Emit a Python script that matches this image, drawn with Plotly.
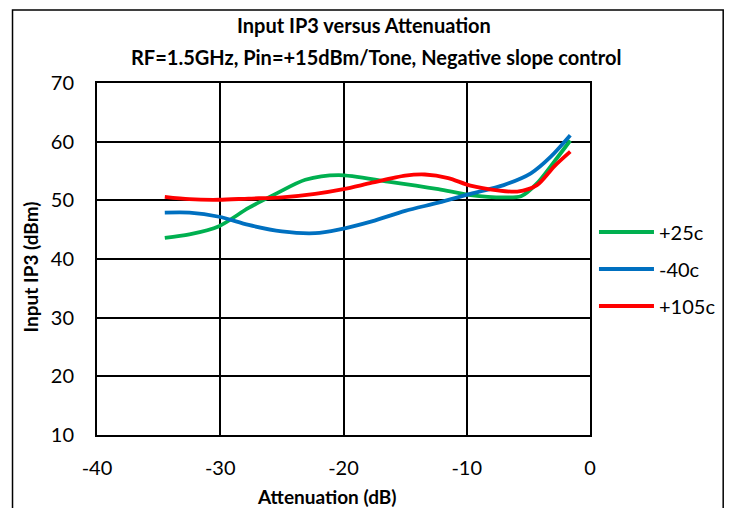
import plotly.graph_objects as go

title_line1 = "Input IP3 versus Attenuation"
title_line2 = "RF=1.5GHz, Pin=+15dBm/Tone, Negative slope control"
x_title = "Attenuation (dB)"
y_title = "Input IP3 (dBm)"

# Attenuation (dB) sample points and values
att_25 = [-34.5, -32.5, -30.1, -27.7, -25.5, -23.1, -20.4, -16.4, -12.3, -9.7, -7.0, -5.6, -4.3, -2.9, -1.6]
ip3_25 = [43.6, 44.2, 45.6, 48.7, 51.1, 53.5, 54.3, 53.2, 51.9, 50.9, 50.5, 50.7, 52.9, 56.6, 60.2]

att_m40 = [-34.5, -32.5, -30.1, -27.7, -25.0, -22.3, -20.4, -17.7, -15.0, -12.3, -9.7, -7.0, -4.8, -3.2, -1.6]
ip3_m40 = [47.9, 47.9, 47.2, 45.8, 44.7, 44.4, 45.0, 46.4, 48.2, 49.6, 51.1, 52.6, 54.6, 57.4, 61.1]

att_105 = [-34.5, -32.5, -30.1, -27.7, -25.0, -22.3, -20.0, -17.7, -15.0, -13.4, -11.5, -9.7, -7.5, -5.9, -4.3, -2.9, -1.6]
ip3_105 = [50.6, 50.2, 50.1, 50.3, 50.5, 51.1, 51.9, 53.0, 54.2, 54.4, 53.8, 52.5, 51.7, 51.5, 52.6, 55.8, 58.3]

x_ticks = [-40, -30, -20, -10, 0]
x_tick_labels = ["-40", "-30", "-20", "-10", "0"]
y_ticks = [10, 20, 30, 40, 50, 60, 70]
y_tick_labels = ["10", "20", "30", "40", "50", "60", "70"]

FONT = "Lato, Open Sans, sans-serif"
W, H = 733, 508
L, R, T, B = 97, 140, 83, 73
PW, PH = W - L - R, H - T - B


def px_x(p):
    return (p - L) / PW


def px_y(p):
    return (H - B - p) / PH


fig = go.Figure()
for i, (name, xs, ys, col) in enumerate([("+25c", att_25, ip3_25, "#00B050"),
                                         ("-40c", att_m40, ip3_m40, "#0070C0"),
                                         ("+105c", att_105, ip3_105, "#FF0000")]):
    fig.add_trace(go.Scatter(x=xs, y=ys, mode="lines", name=name, legendgroup=f"g{i}",
                             line=dict(color=col, width=3.8, shape="spline", smoothing=0.8)))

fig.update_layout(
    width=W, height=H,
    paper_bgcolor="white", plot_bgcolor="white",
    margin=dict(l=L, r=R, t=T, b=B),
    font=dict(family=FONT, color="black", size=20),
    showlegend=True,
    legend=dict(x=px_x(597), xanchor="left", y=px_y(269), yanchor="middle",
                font=dict(size=20, family=FONT), bgcolor="rgba(0,0,0,0)",
                tracegroupgap=8, itemwidth=55),
    shapes=[dict(type="rect", xref="paper", yref="paper", x0=px_x(12), x1=px_x(727),
                 y0=px_y(530), y1=px_y(10), line=dict(color="black", width=1.5))],
    annotations=[
        dict(text="<b>" + title_line1 + "</b>", xref="paper", yref="paper",
             x=px_x(366), y=px_y(25), showarrow=False, xanchor="center", yanchor="middle",
             font=dict(size=20, family=FONT)),
        dict(text="<b>" + title_line2 + "</b>", xref="paper", yref="paper",
             x=px_x(378), y=px_y(57), showarrow=False, xanchor="center", yanchor="middle",
             font=dict(size=20, family=FONT)),
        dict(text="<b>" + x_title + "</b>", xref="paper", yref="paper",
             x=px_x(328), y=px_y(496), showarrow=False, xanchor="center", yanchor="middle",
             font=dict(size=19, family=FONT)),
        dict(text="<b>" + y_title + "</b>", xref="paper", yref="paper",
             x=px_x(30), y=px_y(267), showarrow=False, xanchor="center", yanchor="middle",
             textangle=-90, font=dict(size=19, family=FONT)),
    ],
)
fig.update_xaxes(range=[-40, 0], tickvals=x_ticks, ticktext=x_tick_labels, showgrid=True,
                 gridcolor="black", gridwidth=2, showline=True, linecolor="black", linewidth=2,
                 mirror=True, zeroline=False, ticks="", ticklabelstandoff=14, automargin=False,
                 tickfont=dict(size=20))
fig.update_yaxes(range=[10, 70], tickvals=y_ticks, ticktext=y_tick_labels, showgrid=True,
                 gridcolor="black", gridwidth=2, showline=True, linecolor="black", linewidth=2,
                 mirror=True, zeroline=False, ticks="", ticklabelstandoff=17, automargin=False,
                 tickfont=dict(size=20))

fig.write_html("out.html", config={"displayModeBar": False},
               post_script="document.body.style.margin='0';document.body.style.overflow='hidden';")
